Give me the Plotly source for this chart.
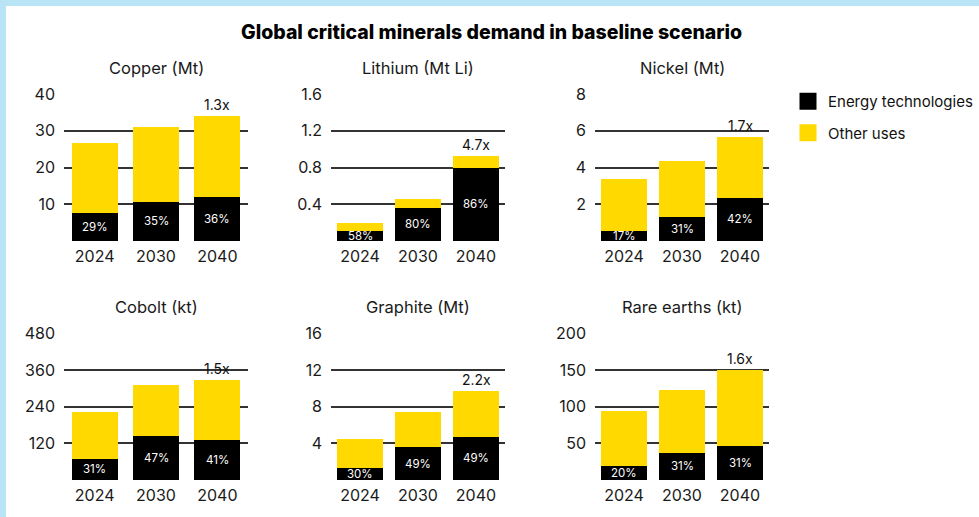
import plotly.graph_objects as go

years = ["2024", "2030", "2040"]
panels = ["Copper (Mt)", "Lithium (Mt Li)", "Nickel (Mt)",
          "Cobolt (kt)", "Graphite (Mt)", "Rare earths (kt)"]

# energy technologies / other uses
energy = [
    [7.7, 10.7, 12.1],
    [0.11, 0.36, 0.80],
    [0.56, 1.33, 2.36],
    [69, 145, 132],
    [1.33, 3.55, 4.72],
    [19, 37, 46.5],
]
other = [
    [19.0, 20.3, 21.9],
    [0.085, 0.10, 0.13],
    [2.82, 3.03, 3.31],
    [153, 166, 195],
    [3.14, 3.86, 4.98],
    [75, 86, 103.5],
]
shares = [
    ["29%", "35%", "36%"],
    ["58%", "80%", "86%"],
    ["17%", "31%", "42%"],
    ["31%", "47%", "41%"],
    ["30%", "49%", "49%"],
    ["20%", "31%", "31%"],
]
multipliers = ["1.3x", "4.7x", "1.7x", "1.5x", "2.2x", "1.6x"]
yticks = [
    [10, 20, 30, 40],
    [0.4, 0.8, 1.2, 1.6],
    [2, 4, 6, 8],
    [120, 240, 360, 480],
    [4, 8, 12, 16],
    [50, 100, 150, 200],
]

W, H = 979, 517
FONT = "Inter"
YELLOW = "#FFD900"
BLUE = "#B9E4F5"
GRID = "#333333"

# plot areas in pixels (left, right) and (top, bottom)
cols = [(64, 248), (331, 505), (595, 769)]
rows = [(94, 241), (333.3, 480)]
bar_w = [0.75, 0.79, 0.79]

fig = go.Figure()
layout = {}
annotations = []

for i, name in enumerate(panels):
    r, c = divmod(i, 3)
    n = "" if i == 0 else str(i + 1)
    xa, ya = "x" + n, "y" + n
    x0, x1 = cols[c]
    y0, y1 = rows[r]

    fig.add_trace(go.Bar(x=years, y=energy[i], xaxis=xa, yaxis=ya,
                         marker=dict(color="#000000", line_width=0),
                         width=bar_w[c], showlegend=False, hoverinfo="y"))
    fig.add_trace(go.Bar(x=years, y=other[i], xaxis=xa, yaxis=ya,
                         marker=dict(color=YELLOW, line_width=0),
                         width=bar_w[c], showlegend=False, hoverinfo="y"))

    layout["xaxis" + n] = dict(
        type="category", categoryorder="array", categoryarray=years,
        range=[-0.5, 2.5],
        domain=[x0 / W, x1 / W], anchor=ya, showgrid=False, zeroline=False,
        showline=False, ticks="", ticklabelstandoff=4, fixedrange=True,
        automargin=False,
        tickfont=dict(family=FONT, size=16, color="#1a1a1a"),
    )
    top = yticks[i][-1]
    layout["yaxis" + n] = dict(
        domain=[1 - y1 / H, 1 - y0 / H], anchor=xa, range=[0, top],
        tickvals=[0] + yticks[i], ticktext=[""] + [f"{v:g}" for v in yticks[i]],
        showgrid=True, gridcolor=GRID, gridwidth=1.5, zeroline=False,
        showline=False, ticks="", ticklabelstandoff=8, fixedrange=True,
        automargin=False,
        tickfont=dict(family=FONT, size=16, color="#1a1a1a"),
    )

    annotations.append(dict(
        text=name, xref="paper", yref="paper", x=(x0 + x1) / 2 / W,
        y=1 - (y0 - 26) / H, xanchor="center", yanchor="middle", showarrow=False,
        font=dict(family=FONT, size=16.5, color="#1a1a1a"),
    ))
    # category axis: annotation x given as category index
    for j, (e, s) in enumerate(zip(energy[i], shares[i])):
        annotations.append(dict(
            text=s, x=j, y=e / 2, xref=xa, yref=ya, showarrow=False,
            font=dict(family=FONT, size=11.5, color="#ffffff"),
        ))
    annotations.append(dict(
        text=multipliers[i], x=len(years) - 1, y=energy[i][-1] + other[i][-1],
        xref=xa, yref=ya, yanchor="bottom", showarrow=False, yshift=1,
        font=dict(family=FONT, size=14, color="#111111"),
    ))

annotations.append(dict(
    text="Global critical minerals demand in baseline scenario",
    xref="paper", yref="paper", x=491 / W, y=1 - 32 / H,
    xanchor="center", yanchor="middle", showarrow=False,
    font=dict(family=FONT, size=19.5, color="#000000", weight=800),
))

# legend entries
for label, col, grp in [("Energy technologies", "#000000", "a"), ("Other uses", YELLOW, "b")]:
    fig.add_trace(go.Bar(x=[None], y=[None], name=label, legendgroup=grp,
                         xaxis="x", yaxis="y",
                         marker=dict(color=col, line=dict(color=col, width=5))))

fig.update_layout(
    **layout,
    template="none",
    width=W, height=H,
    margin=dict(l=0, r=0, t=0, b=0, pad=0, autoexpand=False),
    paper_bgcolor=BLUE, plot_bgcolor="rgba(0,0,0,0)",
    barmode="stack",
    annotations=annotations,
    shapes=[dict(type="rect", xref="paper", yref="paper", x0=6 / W, x1=1.01,
                 y0=-0.01, y1=1 - 6 / H, fillcolor="#ffffff", line_width=0,
                 layer="below")],
    showlegend=True,
    legend=dict(x=788 / W, y=1 - 85 / H, xanchor="left", yanchor="top",
                font=dict(family=FONT, size=15, color="#111111"),
                tracegroupgap=9, bgcolor="rgba(0,0,0,0)", traceorder="grouped"),
    font=dict(family=FONT),
)

fig.write_html("out.html", config={"displayModeBar": False},
               post_script="document.body.style.margin='0';")
